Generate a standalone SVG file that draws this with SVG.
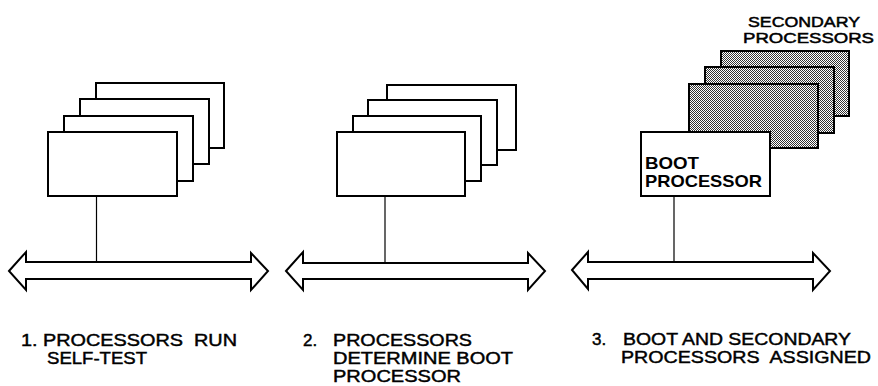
<svg xmlns="http://www.w3.org/2000/svg" width="878" height="386" viewBox="0 0 878 386">
<style>
.card{fill:#fff;stroke:#000;stroke-width:2}
.shade{fill:url(#dots);stroke:#000;stroke-width:2}
.bus{fill:#fff;stroke:#000;stroke-width:2;stroke-linejoin:miter}
.tap{stroke:#000;stroke-width:1.2;fill:none}
text{font-family:"Liberation Sans",Arial,Helvetica,sans-serif;fill:#000;white-space:pre}
.lbl{font-size:17px;stroke:#000;stroke-width:0.45}
.sec{font-size:15px;stroke:#000;stroke-width:0.5}
.bold{font-size:17px;font-weight:bold}
</style>
<defs>
<pattern id="dots" width="2" height="2" patternUnits="userSpaceOnUse">
<rect width="2" height="2" fill="#fff"/>
<rect x="0" y="0" width="1" height="1" fill="#333"/>
<rect x="1" y="1" width="1" height="1" fill="#333"/>
</pattern>
</defs>

<g id="panel1">
<g id="p1-card4"><rect class="card" x="96" y="83" width="128" height="65"/></g>
<g id="p1-card3"><rect class="card" x="80" y="99" width="129" height="65"/></g>
<g id="p1-card2"><rect class="card" x="64" y="116" width="129" height="65"/></g>
<g id="p1-card1"><rect class="card" x="48" y="132" width="129" height="64"/></g>
<g id="p1-bus"><polygon class="bus" points="9,271 26,252 26,262 251,262 251,253 268,271 251,290 251,279 26,279 26,290"/></g>
<g id="p1-label">
<text class="lbl" x="21" y="346" textLength="216" lengthAdjust="spacingAndGlyphs">1. PROCESSORS  RUN</text>
<text class="lbl" x="47" y="364" textLength="100" lengthAdjust="spacingAndGlyphs">SELF-TEST</text>
</g>
</g>

<g id="panel2">
<g id="p2-card4"><rect class="card" x="387" y="85" width="129" height="65"/></g>
<g id="p2-card3"><rect class="card" x="368" y="100" width="129" height="65"/></g>
<g id="p2-card2"><rect class="card" x="353" y="116" width="128" height="65"/></g>
<g id="p2-card1"><rect class="card" x="337" y="132" width="128" height="64"/></g>
<g id="p2-bus"><polygon class="bus" points="286,271 303,252 303,263 528,263 528,253 545,271 528,290 528,279 303,279 303,290"/></g>
<g id="p2-label">
<text class="lbl" x="303" y="346">2.</text>
<text class="lbl" x="333" y="346" textLength="139" lengthAdjust="spacingAndGlyphs">PROCESSORS</text>
<text class="lbl" x="333" y="364" textLength="180" lengthAdjust="spacingAndGlyphs">DETERMINE BOOT</text>
<text class="lbl" x="333" y="382" textLength="128" lengthAdjust="spacingAndGlyphs">PROCESSOR</text>
</g>
</g>

<g id="panel3">
<g id="secondary3"><rect class="shade" x="721" y="51" width="128" height="65"/></g>
<g id="secondary2"><rect class="shade" x="705" y="67" width="129" height="66"/></g>
<g id="secondary1"><rect class="shade" x="689" y="84" width="129" height="64"/></g>
<g id="secondary-label">
<text class="sec" x="748" y="27" textLength="112" lengthAdjust="spacingAndGlyphs">SECONDARY</text>
<text class="sec" x="743" y="43" textLength="131" lengthAdjust="spacingAndGlyphs">PROCESSORS</text>
</g>
<g id="boot">
<rect class="card" x="641" y="132" width="129" height="64"/>
<text class="bold" x="645" y="169" textLength="54" lengthAdjust="spacingAndGlyphs">BOOT</text>
<text class="bold" x="645" y="187" textLength="117" lengthAdjust="spacingAndGlyphs">PROCESSOR</text>
</g>
<g id="p3-bus"><polygon class="bus" points="572,270 588,252 588,262 813,262 813,253 830,271 813,290 813,279 588,279 588,289"/></g>
<g id="p3-label">
<text class="lbl" x="592" y="345">3.</text>
<text class="lbl" x="623" y="345" textLength="228" lengthAdjust="spacingAndGlyphs">BOOT AND SECONDARY</text>
<text class="lbl" x="621" y="363" textLength="250" lengthAdjust="spacingAndGlyphs">PROCESSORS  ASSIGNED</text>
</g>
</g>

<g id="connectors">
<line class="tap" x1="96.5" y1="196" x2="96.5" y2="262"/>
<line class="tap" x1="385" y1="196" x2="385" y2="263"/>
<line class="tap" x1="674" y1="196" x2="674" y2="262"/>
</g>
</svg>
